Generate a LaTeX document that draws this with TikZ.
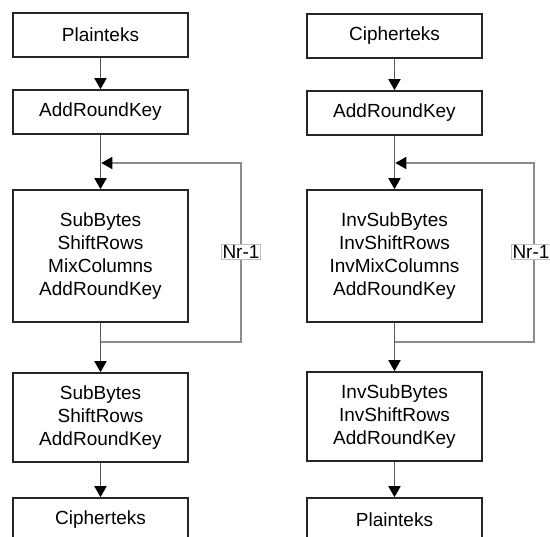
\documentclass[tikz,border=0pt]{standalone}
\usepackage{fontspec}
\setmainfont{Liberation Sans}
\usetikzlibrary{arrows.meta}
\begin{document}
\begin{tikzpicture}[
  x=1pt, y=-1pt,
  stepbox/.style={rectangle, draw=black!85, line width=1.6pt, minimum width=175pt,
    align=center, font=\fontsize{19}{23}\selectfont, inner sep=0pt},
  flow/.style={draw=black!65, line width=1.6pt, -{Triangle[width=12pt,length=11pt,black]}},
  loop/.style={draw=black!45, line width=1.6pt},
  rounds/.style={fill=white, draw=black!25, line width=0.6pt, inner sep=1pt,
    font=\fontsize{19}{23}\selectfont}
]
  \useasboundingbox (0,0) rectangle (550,537);

  % Enkripsi (kolom kiri)
  \node[stepbox, minimum height=44pt] (encin) at (100.5,35) {Plainteks};
  \node[stepbox, minimum height=44pt] (encark) at (100.5,112) {AddRoundKey};
  \node[stepbox, minimum height=132pt] (encrnd) at (100.5,256) {SubBytes\\ShiftRows\\MixColumns\\AddRoundKey};
  \node[stepbox, minimum height=89pt] (encfin) at (100.5,417.5) {SubBytes\\ShiftRows\\AddRoundKey};
  \node[stepbox, minimum height=44pt] (encout) at (100.5,520) {Cipherteks};

  % Dekripsi (kolom kanan)
  \node[stepbox, minimum height=44pt] (decin) at (394.5,36) {Cipherteks};
  \node[stepbox, minimum height=44pt] (decark) at (394.5,113) {AddRoundKey};
  \node[stepbox, minimum height=132pt] (decrnd) at (394.5,256) {InvSubBytes\\InvShiftRows\\InvMixColumns\\AddRoundKey};
  \node[stepbox, minimum height=89pt] (decfin) at (394.5,416.5) {InvSubBytes\\InvShiftRows\\AddRoundKey};
  \node[stepbox, minimum height=44pt] (decout) at (394.5,520) {Plainteks};

  % Titik belok putaran
  \coordinate (encjoin) at (100.5,163);
  \coordinate (encback) at (100.5,342);
  \coordinate (decjoin) at (394.5,163);
  \coordinate (decback) at (394.5,342);

  % Panah alur
  \draw[flow] (encin) -- (encark);
  \draw[flow] (encark) -- (encrnd);
  \draw[flow] (encrnd) -- (encfin);
  \draw[flow] (encfin) -- (encout);
  \draw[flow] (decin) -- (decark);
  \draw[flow] (decark) -- (decrnd);
  \draw[flow] (decrnd) -- (decfin);
  \draw[flow] (decfin) -- (decout);

  % Putaran Nr-1
  \draw[loop, -{Triangle[width=12pt,length=11pt,black]}] (encback) -- (241,342) -- (241,163) -- ([xshift=0.8pt]encjoin);
  \draw[loop, -{Triangle[width=12pt,length=11pt,black]}] (decback) -- (534,342) -- (534,163) -- ([xshift=0.8pt]decjoin);
  \node[rounds] (encnr) at (241,252) {Nr-1};
  \node[rounds] (decnr) at (531,252) {Nr-1};
\end{tikzpicture}
\end{document}
